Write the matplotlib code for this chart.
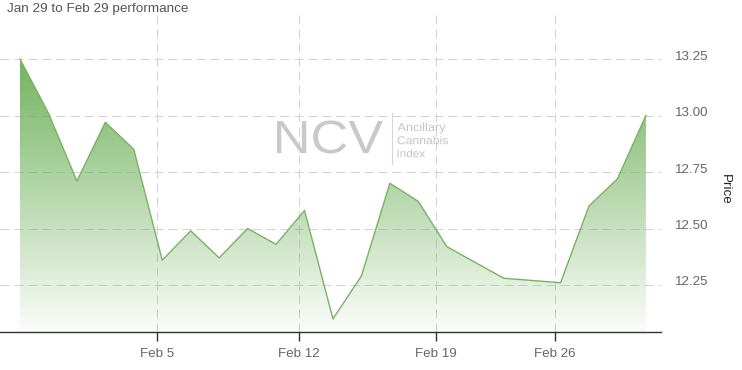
import numpy as np
import pandas as pd
import matplotlib
matplotlib.use('Agg')
import matplotlib.pyplot as plt
from matplotlib.colors import LinearSegmentedColormap
from matplotlib.patches import PathPatch
from matplotlib.textpath import TextPath
from matplotlib.font_manager import FontProperties
from matplotlib.transforms import Affine2D, ScaledTranslation

plt.rcParams['font.family'] = ['Liberation Sans', 'DejaVu Sans']

# trading days Jan 29 - Feb 29 and closing prices
dates = pd.to_datetime([
    '2024-01-29', '2024-01-30', '2024-01-31', '2024-02-01', '2024-02-02',
    '2024-02-05', '2024-02-06', '2024-02-07', '2024-02-08', '2024-02-09',
    '2024-02-12', '2024-02-13', '2024-02-14', '2024-02-15', '2024-02-16',
    '2024-02-20', '2024-02-21', '2024-02-22', '2024-02-23',
    '2024-02-26', '2024-02-27', '2024-02-28', '2024-02-29'])
prices = [13.25, 13.01, 12.71, 12.97, 12.85,
          12.36, 12.49, 12.37, 12.50, 12.43,
          12.58, 12.10, 12.29, 12.70, 12.62,
          12.42, 12.35, 12.28, 12.27,
          12.26, 12.60, 12.72, 13.00]

tick_dates = pd.to_datetime(['2024-02-05', '2024-02-12', '2024-02-19', '2024-02-26'])
tick_labels = ['Feb 5', 'Feb 12', 'Feb 19', 'Feb 26']
y_ticks = [12.25, 12.50, 12.75, 13.00, 13.25]

title = 'Jan 29 to Feb 29 performance'

fig = plt.figure(figsize=(7.42, 3.70), dpi=100)
ax = fig.add_axes([0, 38 / 370, 661 / 742, 322 / 370])

x = np.arange(len(prices))
ymin, ymax = 12.042, 13.467
ax.set_xlim(-0.703, 22.53)
ax.set_ylim(ymin, ymax)

# ordinal axis: points sit in the afternoon, so midnight ticks fall just before them
day = (dates - dates[0]).days.values + 0.58
tick_x = np.interp((tick_dates - dates[0]).days.values, day, x)

# gradient area under the line
poly = ax.fill_between(x, prices, ymin, color='none', lw=0)
clip = PathPatch(poly.get_paths()[0], transform=ax.transData,
                 facecolor='none', edgecolor='none')
ax.add_patch(clip)
cmap = LinearSegmentedColormap.from_list(
    'g', [(0.42, 0.69, 0.34, 0.03), (0.42, 0.69, 0.34, 0.95)])
im = ax.imshow(np.linspace(0, 1, 256).reshape(-1, 1), cmap=cmap, aspect='auto',
               origin='lower', extent=[x[0], x[-1], ymin, max(prices)], zorder=1)
im.set_clip_path(clip)

ax.plot(x, prices, color='#78b266', lw=1, zorder=3)

# grid
ax.set_yticks(y_ticks)
ax.set_yticklabels([f'{v:.2f}' for v in y_ticks])
ax.set_xticks(tick_x)
ax.set_xticklabels(tick_labels)
ax.grid(True, color='#d2d2d2', lw=0.72, ls=(0, (9, 5)))
ax.set_axisbelow(True)

ax.yaxis.tick_right()
ax.tick_params(axis='y', length=0, pad=10, labelsize=9.6, labelcolor='#666666')
ax.tick_params(axis='x', length=6.5, width=1, color='#333333', pad=5,
               labelsize=9.6, labelcolor='#666666')
for lab in ax.get_yticklabels():
    lab.set_transform(lab.get_transform() + ScaledTranslation(0, 4 / 100, fig.dpi_scale_trans))

for s in ['top', 'left', 'right']:
    ax.spines[s].set_visible(False)
ax.spines['bottom'].set_color('#333333')
ax.spines['bottom'].set_linewidth(1)

fig.text(0.977, 0.489, 'Price', rotation=270, ha='center', va='center',
         fontsize=9.6, color='#222222')
fig.text(7 / 742, 1 - 12.3 / 370, title, ha='left', va='baseline',
         fontsize=9.7, color='#555555')


# watermark logo (text fitted to a pixel box)
def logo_text(s, left, bottom, width, height, color):
    fp = FontProperties(family='Liberation Sans')
    tp = TextPath((0, 0), s, size=10, prop=fp)
    ext = tp.get_extents()
    tr = (Affine2D().translate(-ext.x0, -ext.y0)
          .scale(width / ext.width, height / ext.height)
          .translate(left, 370 - bottom))
    fig.add_artist(PathPatch(tp, transform=tr, facecolor=color, edgecolor='none', zorder=5))


logo_text('NCV', 277, 153.5, 106, 33, '#c9c9c9')
logo_text('Ancillary', 397.5, 133.5, 48, 11, '#c4c4c4')
logo_text('Cannabis', 397.5, 144.3, 50.4, 8.4, '#c4c4c4')
logo_text('Index', 397.5, 157.3, 27.5, 8.2, '#c4c4c4')
fig.add_artist(plt.Line2D([391.7 / 742, 391.7 / 742], [1 - 113 / 370, 1 - 164 / 370],
                          transform=fig.transFigure, color='#d6d6d6', lw=0.8))

fig.savefig('out.png', dpi=100)
